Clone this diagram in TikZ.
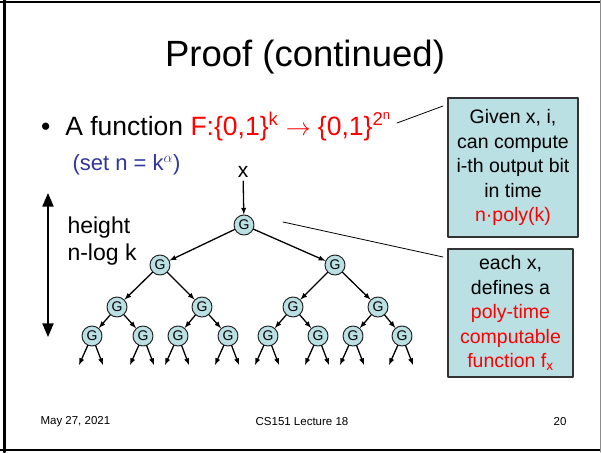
\documentclass[tikz,border=0pt]{standalone}
\usepackage{fontspec}
\setmainfont{Liberation Sans}
\usetikzlibrary{arrows}
\definecolor{tealfill}{RGB}{186,224,228}
\definecolor{setblue}{RGB}{51,51,160}

\tikzset{
  gate/.style={circle,draw=black!85,line width=1pt,fill=tealfill,minimum size=20pt,inner sep=0pt,font=\fontsize{14}{14}\selectfont},
  note/.style={draw=black!80,line width=1.1pt,fill=tealfill,align=center,inner sep=0pt,font=\fontsize{19.5}{24.5}\selectfont},
  wire/.style={-latex,line width=1.3pt},
}

\begin{document}
\begin{tikzpicture}[x=1pt,y=-1pt,line cap=round,line join=round,>=triangle 45]
        \useasboundingbox (0,0) rectangle (601,452);
        % slide frame
        \draw[line width=3pt] (4.5,0) -- (4.5,452);
        \draw[line width=2.2pt] (0,2) -- (601,2);
        \draw[line width=2.2pt] (0,450) -- (601,450);
        \draw[black!45,line width=1pt] (600,0) -- (600,452);

        \node (title) at (305,57) {\fontsize{36.5}{40}\selectfont Proof (continued)};
        \node[anchor=base west] (fn) at (37.5,135) {\fontsize{26.5}{30}\selectfont
          •\hspace{15pt}A function \textcolor{red}{F:\{0,1\}\textsuperscript{k} $\rightarrow$ \{0,1\}\textsuperscript{2\textsuperscript{n}}}};
        \node[anchor=base west,text=setblue] (setn) at (69,170) {\fontsize{22}{26}\selectfont (set n = k$^{\alpha}$)};

        % height of the tree
        \coordinate (htop) at (48,193);
        \coordinate (hbot) at (48,337);
        \draw[<->,line width=2.2pt] (htop) -- (hbot);
        \node[anchor=base west] (hgt1) at (64,233) {\fontsize{23}{27}\selectfont height};
        \node[anchor=base west] (hgt2) at (64,260) {\fontsize{23}{27}\selectfont n-log k};

        % the tree of G's
        \node (xin) at (243,172) {\fontsize{21}{24}\selectfont x};
        \node[gate] (root) at (244,225) {G};
        \draw[wire] (xin) -- (root);
        \node[gate] (g2-1) at (160,265) {G};
        \node[gate] (g2-2) at (335,265) {G};
        \foreach \i in {1,2} \draw[wire] (root) -- (g2-\i);
        \foreach \x [count=\i] in {117,202,293,378}
          \node[gate] (g3-\i) at (\x,307) {G};
        \foreach \i/\p in {1/1,2/1,3/2,4/2} \draw[wire] (g2-\p) -- (g3-\i);
        \foreach \x [count=\i] in {92,143,178,228,268,318,353,402}{
          \node[gate] (g4-\i) at (\x,336) {G};
          \coordinate (g4-\i-l) at (\x-13,365);
          \coordinate (g4-\i-r) at (\x+11,365);
          \draw[wire] (g4-\i) -- (g4-\i-l);
          \draw[wire] (g4-\i) -- (g4-\i-r);
        }
        \foreach \i/\p in {1/1,2/1,3/2,4/2,5/3,6/3,7/4,8/4} \draw[wire] (g3-\p) -- (g4-\i);

        % side notes
        \node[note,minimum width=130pt,minimum height=139pt] (note1) at (513,167.5)
          {Given x, i,\\can compute\\i-th output bit\\in time\\\textcolor{red}{n·poly(k)}};
        \node[note,minimum width=125pt,minimum height=128pt] (note2) at (510.5,313)
          {each x,\\defines a\\\textcolor{red}{poly-time}\\\textcolor{red}{computable}\\\textcolor{red}{function f\textsubscript{x}}};
        \coordinate (c1a) at (397,123);
        \coordinate (c1b) at (443,106);
        \draw[line width=0.8pt] (c1a) -- (c1b);
        \coordinate (c2a) at (283,222);
        \coordinate (c2b) at (443,257);
        \draw[line width=0.8pt] (c2a) -- (c2b);

        % footer
        \node[anchor=west] (date) at (37,422) {\fontsize{11.5}{13}\selectfont May 27, 2021};
        \node (lect) at (302,422) {\fontsize{11.5}{13}\selectfont CS151 Lecture 18};
        \node (page) at (560,422) {\fontsize{11.5}{13}\selectfont 20};
      \end{tikzpicture}
\end{document}
